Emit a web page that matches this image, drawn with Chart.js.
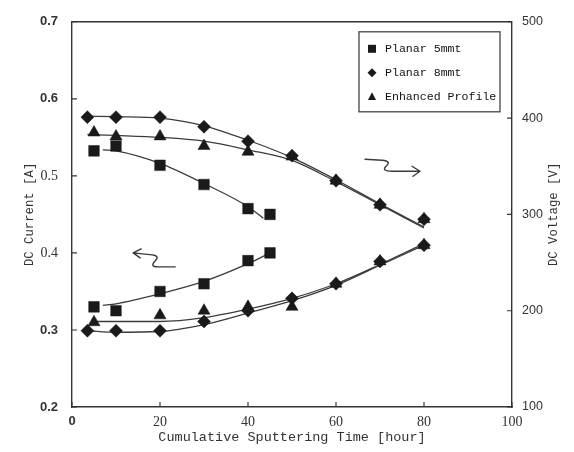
<!DOCTYPE html>
<html>
<head>
<meta charset="utf-8">
<script src="https://cdn.jsdelivr.net/npm/chart.js@4/dist/chart.umd.min.js"></script>
<style>
  html, body { margin: 0; padding: 0; background: #fff; }
  #wrap { width: 574px; height: 452px; }
</style>
</head>
<body>
<div id="wrap"><canvas id="chart" width="574" height="452"></canvas></div>
<script>
// target names
const seriesNames = ['Planar 5mmt', 'Planar 8mmt', 'Enhanced Profile'];

// axis ticks
const timeTicks = [0, 20, 40, 60, 80, 100];
const currentTicks = [0.2, 0.3, 0.4, 0.5, 0.6, 0.7];
const voltageTicks = [100, 200, 300, 400, 500];

// measured points: time [hour], voltage [V], current [A]
const timeP5 = [5, 10, 20, 30, 40, 45];
const voltP5 = [366, 371, 351, 331, 306, 300];
const currP5 = [0.330, 0.325, 0.350, 0.360, 0.390, 0.400];

const timeP8 = [3.5, 10, 20, 30, 40, 50, 60, 70, 80];
const voltP8 = [401, 401, 401, 391, 376, 361, 335, 310, 295];
const currP8 = [0.299, 0.299, 0.299, 0.311, 0.325, 0.341, 0.360, 0.389, 0.410];

const timeEP = [5, 10, 20, 30, 40, 50, 60, 70, 80];
const voltEP = [385, 381, 381, 371, 365, 360, 335, 310, 295];
const currEP = [0.310, null, 0.319, 0.325, 0.330, 0.330, 0.360, 0.389, 0.410];

// fitted trend curves
const fitTimeP5 = [7, 10, 20, 30, 40, 43.5];
const fitVoltP5 = [367, 366, 353, 332, 308, 296];
const fitCurrTimeP5 = [7, 10, 20, 30, 40, 45];
const fitCurrP5 = [0.332, 0.334, 0.347, 0.363, 0.386, 0.400];

const fitTimeP8 = [3.5, 10, 20, 30, 40, 50, 60, 70, 80];
const fitVoltP8 = [402, 401.5, 400, 392, 377, 359, 336, 311, 287];
const fitCurrP8 = [0.299, 0.297, 0.298, 0.307, 0.322, 0.338, 0.358, 0.384, 0.410];

const fitTimeEP = [3.5, 10, 20, 30, 40, 50, 60, 70, 80];
const fitVoltEP = [383, 382, 380, 376, 367, 356, 334, 310, 286];
const fitCurrTimeEP = [5, 10, 20, 30, 40, 50, 60, 70, 80];
const fitCurrEP = [0.311, 0.311, 0.311, 0.316, 0.327, 0.341, 0.360, 0.385, 0.412];

const toPoints = (xs, ys) => xs.map((x, i) => ({ x: x, y: ys[i] })).filter(p => p.y !== null);

const markStyles = [
  { pointStyle: 'rect', radius: 7.5 },
  { pointStyle: 'rectRot', radius: 6.5 },
  { pointStyle: 'triangle', radius: 7 },
];

const ink = '#1a1a1a';
const lineInk = '#3c3c3c';

function markSet(label, xs, ys, style, axis, legend) {
  return {
    label: label,
    data: toPoints(xs, ys),
    yAxisID: axis,
    showLine: false,
    pointStyle: style.pointStyle,
    pointRadius: style.radius,
    pointBackgroundColor: ink,
    pointBorderColor: ink,
    pointBorderWidth: 0.5,
    order: 1,
    inLegend: legend,
  };
}

function fitSet(label, xs, ys, axis) {
  return {
    label: label,
    data: toPoints(xs, ys),
    yAxisID: axis,
    showLine: true,
    pointRadius: 0,
    borderColor: lineInk,
    borderWidth: 1.3,
    cubicInterpolationMode: 'monotone',
    order: 2,
    inLegend: false,
  };
}

const datasets = [
  fitSet('fit V 5mmt', fitTimeP5, fitVoltP5, 'y2'),
  fitSet('fit V 8mmt', fitTimeP8, fitVoltP8, 'y2'),
  fitSet('fit V EP', fitTimeEP, fitVoltEP, 'y2'),
  fitSet('fit I 5mmt', fitCurrTimeP5, fitCurrP5, 'y'),
  fitSet('fit I 8mmt', fitTimeP8, fitCurrP8, 'y'),
  fitSet('fit I EP', fitCurrTimeEP, fitCurrEP, 'y'),
  markSet(seriesNames[0], timeP5, voltP5, markStyles[0], 'y2', true),
  markSet(seriesNames[1], timeP8, voltP8, markStyles[1], 'y2', true),
  markSet(seriesNames[2], timeEP, voltEP, markStyles[2], 'y2', true),
  markSet(seriesNames[0], timeP5, currP5, markStyles[0], 'y', false),
  markSet(seriesNames[1], timeP8, currP8, markStyles[1], 'y', false),
  markSet(seriesNames[2], timeEP, currEP, markStyles[2], 'y', false),
];

function drawMark(ctx, style, x, y, r) {
  ctx.beginPath();
  if (style === 'rect') {
    ctx.rect(x - r, y - r, 2 * r, 2 * r);
  } else if (style === 'rectRot') {
    ctx.moveTo(x, y - r); ctx.lineTo(x + r, y); ctx.lineTo(x, y + r); ctx.lineTo(x - r, y);
    ctx.closePath();
  } else {
    ctx.moveTo(x, y - r); ctx.lineTo(x + r * 0.9, y + r * 0.7); ctx.lineTo(x - r * 0.9, y + r * 0.7);
    ctx.closePath();
  }
  ctx.fill();
}

// frame, inward ticks, legend box, arrows and right axis title
const decorPlugin = {
  id: 'decor',
  afterDraw(chart) {
    const { ctx, chartArea: a, scales } = chart;
    ctx.save();
    ctx.strokeStyle = '#333';
    ctx.lineWidth = 1.4;
    ctx.beginPath();
    ctx.moveTo(a.left, a.top); ctx.lineTo(a.right, a.top);
    ctx.stroke();

    ctx.lineWidth = 1.1;
    ctx.beginPath();
    scales.y.ticks.forEach(t => {
      const py = scales.y.getPixelForValue(t.value);
      ctx.moveTo(a.left, py); ctx.lineTo(a.left + 5, py);
    });
    scales.y2.ticks.forEach(t => {
      const py = scales.y2.getPixelForValue(t.value);
      ctx.moveTo(a.right, py); ctx.lineTo(a.right - 5, py);
    });
    scales.x.ticks.forEach(t => {
      const px = scales.x.getPixelForValue(t.value);
      ctx.moveTo(px, a.bottom); ctx.lineTo(px, a.bottom - 5);
    });
    ctx.stroke();

    // legend
    const lx = a.right - 153, ly = a.top + 10, lw = 141, lh = 80;
    ctx.fillStyle = '#fff';
    ctx.fillRect(lx, ly, lw, lh);
    ctx.strokeStyle = '#444';
    ctx.lineWidth = 1.3;
    ctx.strokeRect(lx, ly, lw, lh);
    const items = chart.data.datasets.filter(d => d.inLegend);
    ctx.font = '11.6px "Liberation Mono", monospace';
    ctx.textBaseline = 'middle';
    items.forEach((d, i) => {
      const cy = ly + 17 + i * 24;
      ctx.fillStyle = ink;
      const r = d.pointStyle === 'rect' ? 4 : 4.5;
      drawMark(ctx, d.pointStyle, lx + 13, cy, r);
      ctx.fillStyle = '#111';
      ctx.fillText(d.label, lx + 26, cy);
    });

    // direction arrows
    ctx.strokeStyle = '#3a3a3a';
    ctx.lineWidth = 1.4;
    ctx.lineCap = 'round';
    ctx.lineJoin = 'round';
    let tx = scales.x.getPixelForValue(13.9), ty = scales.y.getPixelForValue(0.4);
    ctx.beginPath();
    ctx.moveTo(tx, ty); ctx.lineTo(tx + 19, ty + 2);
    ctx.quadraticCurveTo(tx + 27, ty + 3, tx + 22, ty + 8);
    ctx.quadraticCurveTo(tx + 16, ty + 14, tx + 25, ty + 14);
    ctx.lineTo(tx + 42, ty + 14);
    ctx.moveTo(tx + 8, ty - 4); ctx.lineTo(tx, ty); ctx.lineTo(tx + 7, ty + 5);
    ctx.stroke();

    tx = scales.x.getPixelForValue(79.1); ty = scales.y.getPixelForValue(0.506);
    ctx.beginPath();
    ctx.moveTo(tx - 55, ty - 12); ctx.lineTo(tx - 38, ty - 11);
    ctx.quadraticCurveTo(tx - 28, ty - 10, tx - 34, ty - 5);
    ctx.quadraticCurveTo(tx - 39, ty, tx - 28, ty);
    ctx.lineTo(tx, ty);
    ctx.moveTo(tx - 8, ty - 5); ctx.lineTo(tx, ty); ctx.lineTo(tx - 7, ty + 5);
    ctx.stroke();

    // right axis title reads bottom to top
    ctx.fillStyle = '#333';
    ctx.font = '12.3px "Liberation Mono", monospace';
    ctx.textAlign = 'center';
    ctx.textBaseline = 'middle';
    ctx.translate(554, (a.top + a.bottom) / 2);
    ctx.rotate(-Math.PI / 2);
    ctx.fillText('DC Voltage [V]', 0, 0);
    ctx.restore();
  }
};

const whiteBg = {
  id: 'whiteBg',
  beforeDraw(chart) {
    const { ctx, width, height } = chart;
    ctx.save();
    ctx.fillStyle = '#fff';
    ctx.fillRect(0, 0, width, height);
    ctx.restore();
  }
};

const axisBorder = { display: true, color: '#333', width: 1.4 };
const noGrid = { drawOnChartArea: false, drawTicks: false };

new Chart(document.getElementById('chart').getContext('2d'), {
  type: 'scatter',
  data: { datasets: datasets },
  options: {
    responsive: false,
    animation: false,
    layout: { padding: { top: 15, left: 0, right: 0, bottom: 0 } },
    plugins: {
      legend: { display: false },
      tooltip: { enabled: false },
    },
    scales: {
      x: {
        type: 'linear',
        min: timeTicks[0],
        max: timeTicks[timeTicks.length - 1],
        afterBuildTicks: s => { s.ticks = timeTicks.map(v => ({ value: v })); },
        afterFit: s => { s.height = 45; },
        grid: noGrid,
        border: axisBorder,
        ticks: {
          padding: 7,
          color: '#333',
          maxRotation: 0,
          font: ctx => ctx.tick && ctx.tick.value === 0
            ? { family: '"Liberation Sans", sans-serif', size: 13, weight: 'bold' }
            : { family: '"Liberation Serif", serif', size: 14 },
        },
        title: {
          display: true,
          text: 'Cumulative Sputtering Time [hour]',
          color: '#333',
          font: { family: '"Liberation Mono", monospace', size: 13.5 },
          padding: { top: 0, bottom: 6 },
        },
      },
      y: {
        type: 'linear',
        position: 'left',
        min: currentTicks[0],
        max: currentTicks[currentTicks.length - 1],
        afterBuildTicks: s => { s.ticks = currentTicks.map(v => ({ value: v })); },
        afterFit: s => { s.width = 72; },
        grid: noGrid,
        border: axisBorder,
        ticks: {
          padding: 14,
          color: '#333',
          callback: v => v.toFixed(1),
          font: ctx => ctx.tick && (Math.abs(ctx.tick.value - 0.5) < 1e-6 || Math.abs(ctx.tick.value - 0.4) < 1e-6)
            ? { family: '"Liberation Serif", serif', size: 14 }
            : { family: '"Liberation Sans", sans-serif', size: 13, weight: 'bold' },
        },
        title: {
          display: true,
          text: 'DC Current [A]',
          color: '#333',
          font: { family: '"Liberation Mono", monospace', size: 12.3 },
          padding: { top: 22, bottom: 0 },
        },
      },
      y2: {
        type: 'linear',
        position: 'right',
        min: voltageTicks[0],
        max: voltageTicks[voltageTicks.length - 1],
        afterBuildTicks: s => { s.ticks = voltageTicks.map(v => ({ value: v })); },
        afterFit: s => { s.width = 62; },
        grid: noGrid,
        border: axisBorder,
        ticks: {
          padding: 10,
          color: '#333',
          font: { family: '"Liberation Sans", sans-serif', size: 12.5 },
        },
      },
    },
  },
  plugins: [whiteBg, decorPlugin],
});
</script>
</body>
</html>
